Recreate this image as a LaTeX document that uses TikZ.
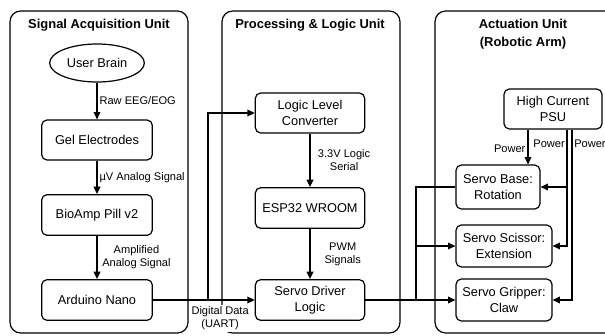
\documentclass[tikz,border=0pt]{standalone}
\usepackage{fontspec}
\setmainfont{Liberation Sans}
\usetikzlibrary{arrows.meta,shapes.geometric}

\tikzset{
  unit/.style={draw, line width=0.9pt, rounded corners=8pt},
  unittitle/.style={font=\bfseries\fontsize{9.7}{13.5}\selectfont, align=center},
  block/.style={draw, line width=0.9pt, rounded corners=4pt, align=center, inner sep=1pt,
    font=\fontsize{9.6}{12}\selectfont},
  lbl/.style={font=\fontsize{8.3}{9.9}\selectfont, align=center, inner sep=1.5pt},
  wire/.style={line width=0.9pt},
  arr/.style={line width=0.9pt, -{Triangle[length=5.5pt,width=5pt]}},
}

\begin{document}
\begin{tikzpicture}[x=0.75pt, y=-0.75pt]
\clip (0,0) rectangle (605,335);

% the three units
\draw[unit] (10,11) rectangle (188,333);
\draw[unit] (222,11) rectangle (400,333);
\draw[unit] (435,11) rectangle (660,333);
\node[unittitle] (t1) at (99,25) {Signal Acquisition Unit};
\node[unittitle] (t2) at (310,25) {Processing \& Logic Unit};
\node[unittitle] (t3) at (523,34) {Actuation Unit\\(Robotic Arm)};

% signal acquisition
\node[draw, ellipse, line width=0.9pt, inner sep=0pt, minimum width=71pt, minimum height=28.5pt,
      font=\fontsize{9.6}{12}\selectfont] (brain) at (97,63) {User Brain};
\node[block, minimum width=83pt, minimum height=30pt] (gel) at (97,140) {Gel Electrodes};
\node[block, minimum width=83pt, minimum height=30.5pt] (bioamp) at (97,215) {BioAmp Pill v2};
\node[block, minimum width=83pt, minimum height=30.5pt] (nano) at (97,300) {Arduino Nano};

\draw[arr] (brain) -- (gel) node[lbl, midway, right] {Raw EEG/EOG};
\draw[arr] (gel) -- (bioamp) node[lbl, midway, right] {µV Analog Signal};
\draw[arr] (bioamp) -- (nano) node[lbl, midway, right, xshift=2pt] {Amplified\\Analog Signal};

% processing and logic
\node[block, minimum width=82pt, minimum height=30pt] (llc) at (310,113) {Logic Level\\Converter};
\node[block, minimum width=82pt, minimum height=30.5pt] (esp) at (310,208) {ESP32 WROOM};
\node[block, minimum width=82pt, minimum height=30.5pt] (sdl) at (310,300) {Servo Driver\\Logic};

\draw[arr] (llc) -- (esp) node[lbl, midway, right, xshift=4pt] {3.3V Logic\\Serial};
\draw[arr] (esp) -- (sdl) node[lbl, midway, right, xshift=9pt] {PWM\\Signals};

\coordinate (uart) at (208,300);
\draw[arr] (nano) -- (sdl) node[lbl, pos=0.66, below, fill=white, yshift=-3pt] {Digital Data\\(UART)};
\draw[arr] (uart) |- (llc);

% actuation
\node[block, minimum width=73.5pt, minimum height=30pt] (psu) at (553,109) {High Current\\PSU};
\node[block, minimum width=63pt, minimum height=33pt] (base) at (498,187) {Servo Base:\\Rotation};
\node[block, minimum width=72pt, minimum height=31.5pt] (sciss) at (504,246) {Servo Scissor:\\Extension};
\node[block, minimum width=72pt, minimum height=31.5pt] (grip) at (504,300) {Servo Gripper:\\Claw};

\coordinate (bus) at (416,300);
\draw[arr] (sdl) -- (grip);
\draw[arr] (bus) |- (sciss);
\draw[wire] (bus) |- (base);

\coordinate (p1) at ([xshift=-18.75pt]psu.south);
\coordinate (p2) at ([xshift=10.5pt]psu.south);
\coordinate (p3) at ([xshift=14.25pt]psu.south);
\coordinate (pwy) at (0,144);
\draw[arr] (p1) -- (p1 |- base.north) node[lbl, midway, left, yshift=-1pt] {Power};
\draw[arr] (p2) |- (sciss);
\draw[arr] (p2 |- base.east) -- (base);
\draw[arr] (p3) |- (grip);
\node[lbl, anchor=east] (pw2) at (p2 |- pwy) {Power};
\node[lbl, anchor=west] (pw3) at (p3 |- pwy) {Power};
\end{tikzpicture}
\end{document}
